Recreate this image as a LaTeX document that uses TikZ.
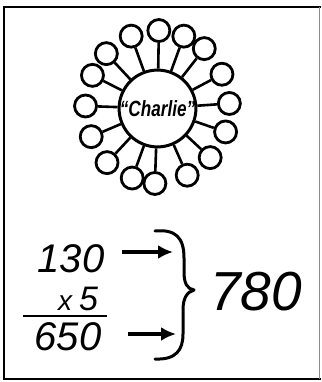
\documentclass[tikz,border=0pt]{standalone}
\usepackage{fontspec}
\setmainfont{Liberation Sans}
\usetikzlibrary{arrows.meta,calc}
\begin{document}
\begin{tikzpicture}[x=1pt,y=-1pt,
  hub/.style={circle,draw,line width=3pt,minimum size=73pt,inner sep=0pt},
  leaf/.style={circle,draw,line width=2.8pt,minimum size=22pt,inner sep=0pt},
  spoke/.style={line width=2.6pt},
  num/.style={anchor=base,inner sep=0pt,font=\fontsize{40}{40}\selectfont\itshape},
  arr/.style={line width=3.2pt,-{Latex[length=15pt,width=14pt]}},
  frame/.style={line width=2.6pt}]
\useasboundingbox (0,0) rectangle (321,382);
% frame
\coordinate (tl) at (4,7);
\coordinate (tr) at (321,7);
\coordinate (bl) at (4,379);
\coordinate (br) at (321,379);
\draw[frame] (tr) -- (tl) -- (bl) -- (br);
\draw[line width=1pt,black!45] (319,7) -- (319,379);
% hub
\node[hub] (c) at (157.5,108.5) {\fontsize{22}{22}\selectfont\bfseries\itshape\scalebox{0.78}[1]{“Charlie”}};
% leaves
\foreach \i/\a/\r in {1/110/77,2/89/78,3/70/77,4/52/76,5/28/73,6/4/72,7/-19/72,8/-43/72,
  9/-66/73,10/-92/75,11/-110/74,12/-133/74,13/-157/72,14/178/72,15/153/73,16/133/75}{
  \node[leaf] (s\i) at ($(c)+({\r*cos(\a)},{-\r*sin(\a)})$) {};
  \draw[spoke] (c) -- (s\i);
}
% numbers
\node[num] (n130) at (71,272) {130};
\node[num] (nx5) at (78,310) {\fontsize{28}{28}\selectfont x\hspace{7pt}\fontsize{34}{34}\selectfont 5};
\node[num] (n650) at (68,350) {650};
\node[num,font=\fontsize{55}{55}\selectfont\itshape] (n780) at (256,310) {780};
\coordinate (u1) at (23,316);
\coordinate (u2) at (107,316);
\draw[line width=2.6pt] (u1) -- (u2);
% arrows
\coordinate (a1s) at (122,252);
\coordinate (a1e) at (173,252);
\coordinate (a2s) at (128,334);
\coordinate (a2e) at (176,334);
\draw[arr] (a1s) -- (a1e);
\draw[arr] (a2s) -- (a2e);
% brace
\coordinate (btop) at (155,231);
\coordinate (btip) at (194,290);
\coordinate (bbot) at (155,359);
\draw[line width=3pt,line cap=round,line join=round]
  (btop) .. controls (176,229) and (184,238) .. (184,258)
  -- (184,272) .. controls (184,283) and (187,289) .. (btip)
  .. controls (187,292) and (183,298) .. (183,310)
  -- (183,334) .. controls (183,350) and (176,360) .. (bbot);
\end{tikzpicture}
\end{document}
